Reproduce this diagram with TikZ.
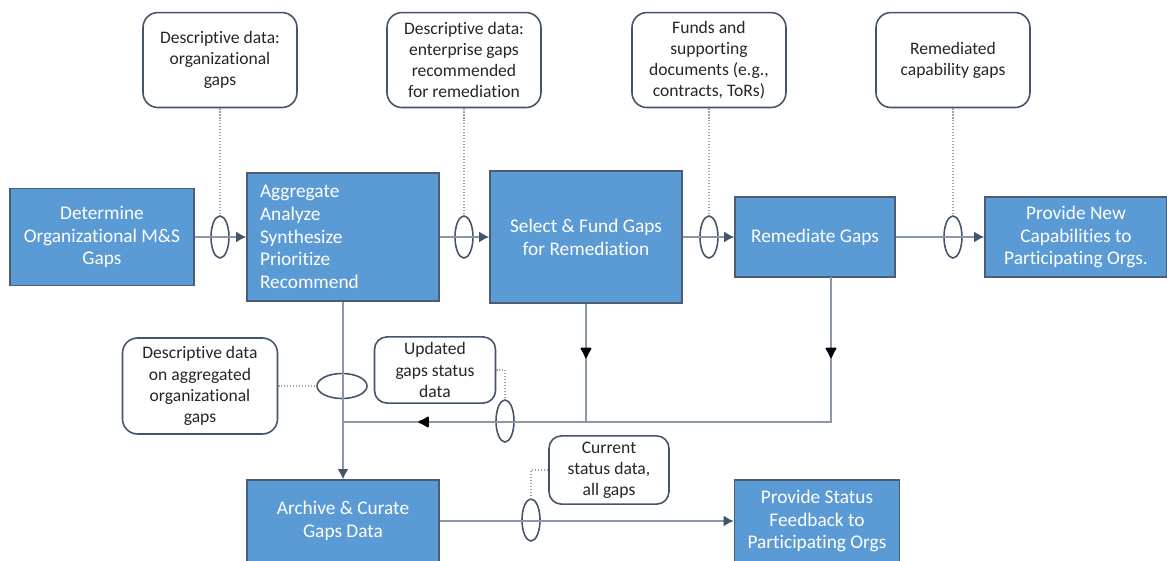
\documentclass[tikz,border=0pt]{standalone}
\usepackage{fontspec}
\setmainfont{Carlito}[Ligatures={NoCommon}]
\usetikzlibrary{arrows,arrows.meta,positioning,shapes,calc,decorations.markings}
\definecolor{boxfill}{HTML}{5B9BD5}
\definecolor{boxedge}{HTML}{4A5D75}
\definecolor{noteedge}{HTML}{44546A}
\definecolor{notetext}{HTML}{262626}
\definecolor{flowline}{HTML}{8A97A8}
\definecolor{tipcol}{HTML}{44546A}
\definecolor{dotcol}{HTML}{A0A0A0}
\tikzset{
    block/.style = {draw=boxedge, fill=boxfill, rectangle, line width=0.9pt,
        text=white, font=\fontsize{11}{13}\selectfont, align=center},
    note/.style = {draw=noteedge, fill=white, rectangle, rounded corners=0.3cm,
        line width=0.9pt, text=notetext, font=\fontsize{10}{12}\selectfont,
        align=center, minimum width=3.08cm, minimum height=1.9cm},
    tap/.style = {draw=noteedge, ellipse, line width=0.9pt, inner sep=0pt,
        minimum width=0.36cm, minimum height=0.84cm},
    flow/.style = {draw=flowline, line width=1.1pt,
        -{Latex[length=2mm,width=2.2mm,color=tipcol]}},
    feed/.style = {draw=dotcol, densely dotted, line width=0.7pt},
    retn/.style = {draw=flowline, line width=1.1pt, postaction={decorate}},
    droptip/.tip = {Latex[length=2.5mm,width=2.6mm,round,color=black]}
}

\begin{document}
\begin{tikzpicture}[x=0.02cm, y=-0.02cm]
    \useasboundingbox (0,0) rectangle (1167,561);
    \node [block, minimum width=3.68cm, minimum height=1.94cm] (determine) at (102,237) {Determine\\Organizational M\&S\\Gaps};
    \node [block, minimum height=2.56cm, text width=3.32cm, inner xsep=0.26cm, align=left] (aggregate) at (343,237) {Aggregate\\Analyze\\Synthesize\\Prioritize\\Recommend};
    \node [block, minimum width=3.84cm, minimum height=2.64cm] (selfund) at (586,237) {Select \& Fund Gaps\\for Remediation};
    \node [block, minimum width=3.2cm, minimum height=1.6cm] (remed) at (815,237) {Remediate Gaps};
    \node [block, minimum width=3.64cm, minimum height=1.6cm] (newcap) at (1076,237) {Provide New\\Capabilities to\\Participating Orgs.};
    \node [block, minimum width=3.84cm, minimum height=1.64cm] (archive) at (343,521) {Archive \& Curate\\Gaps Data};
    \node [block, minimum width=3.3cm, minimum height=1.64cm] (status) at (817,521) {Provide Status\\Feedback to\\Participating Orgs};

    \node [tap, right of=determine, node distance=2.36cm] (tap1) {};
    \node [tap, right of=aggregate, node distance=2.42cm] (tap2) {};
    \node [tap, right of=selfund, node distance=2.46cm] (tap3) {};
    \node [tap, right of=remed, node distance=2.76cm] (tap4) {};
    \node [tap, minimum width=1cm, minimum height=0.5cm] (tap5) at (342,386) {};
    \node [tap] (tap6) at (505,421) {};
    \node [tap] (tap7) at (531,520) {};

    \node [note, above of=tap1, node distance=3.54cm] (orggaps) {Descriptive data:\\organizational\\gaps};
    \node [note, above of=tap2, node distance=3.54cm] (entgaps) {Descriptive data:\\enterprise gaps\\recommended\\for remediation};
    \node [note, above of=tap3, node distance=3.54cm] (funds) {Funds and\\supporting\\documents (e.g.,\\contracts, ToRs)};
    \node [note, above of=tap4, node distance=3.54cm] (capgaps) {Remediated\\capability gaps};
    \node [note, minimum width=3.1cm, minimum height=1.92cm] (agggaps) at (200,386) {Descriptive data\\on aggregated\\organizational\\gaps};
    \node [note, minimum width=2.42cm, minimum height=1.3cm, rounded corners=0.25cm] (updgaps) at (435,370) {Updated\\gaps status\\data};
    \node [note, minimum width=2.4cm, minimum height=1.32cm, rounded corners=0.25cm] (curgaps) at (609,470) {Current\\status data,\\all gaps};

    \coordinate (remout) at (831,277);
    \coordinate (jsel) at (586,422);
    \coordinate (jagg) at (343,422);

    \draw [flow] (determine) -- (aggregate);
    \draw [flow] (aggregate) -- (selfund);
    \draw [flow] (selfund) -- (remed);
    \draw [flow] (remed) -- (newcap);
    \draw [flow] (aggregate) -- (archive);
    \draw [flow] (archive) -- (status);
    \draw [retn, decoration={markings, mark=at position 0.46 with {\arrow{droptip}}}] (selfund.south) -- (jsel);
    \draw [retn, decoration={markings,
        mark=at position 0.128 with {\arrow{droptip}},
        mark=at position 0.881 with {\arrow{droptip}}}] (remout) |- (jagg);

    \draw [feed] (orggaps) -- (tap1);
    \draw [feed] (entgaps) -- (tap2);
    \draw [feed] (funds) -- (tap3);
    \draw [feed] (capgaps) -- (tap4);
    \draw [feed] (agggaps) -- (tap5);
    \draw [feed] (updgaps.east) -| (tap6.north);
    \draw [feed] (curgaps.west) -| (tap7.north);
\end{tikzpicture}
\end{document}
